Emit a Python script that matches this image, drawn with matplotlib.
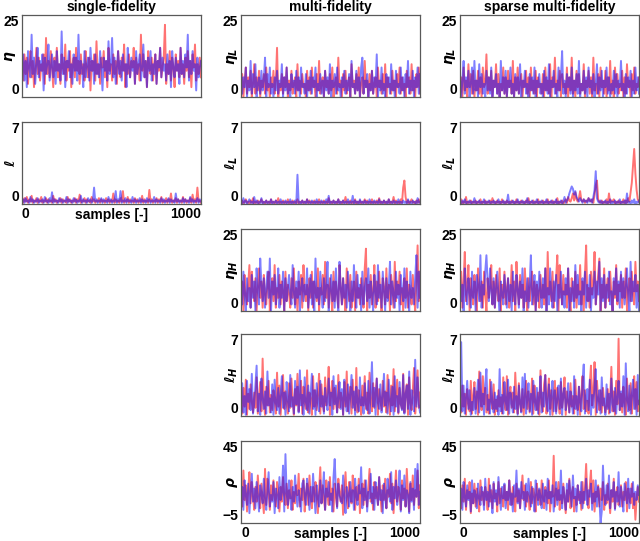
import numpy as np
import matplotlib
matplotlib.use('Agg')
import matplotlib.pyplot as plt

plt.rc('font', family='Liberation Sans', weight='bold', size=10)
plt.rc('mathtext', fontset='dejavusans')

# --- chain traces (roughly every 7th sample) ---
# single-fidelity
eta_sf_red = [9, 5, 13, 7, 12, 4, 10, 14, 6, 11, 3, 9, 15, 7, 12,
              5, 10, 8, 13, 4, 18, 7, 11, 6, 14, 9, 3, 12, 8, 15,
              6, 10, 4, 13, 9, 7, 16, 5, 11, 8, 14, 3, 10, 12, 6,
              15, 8, 11, 4, 13, 7, 10, 5, 14, 9, 6, 12, 2, 11, 8,
              13, 5, 17, 7, 10, 4, 12, 9, 14, 6, 11, 3, 15, 8, 10,
              5, 13, 7, 11, 4, 14, 9, 6, 12, 8, 16, 3, 10, 7, 13,
              6, 11, 9, 15, 4, 12, 7, 10, 5, 19, 8, 13, 6, 11, 3,
              14, 9, 7, 12, 5, 10, 13, 4, 11, 8, 15, 6, 9, 12, 22,
              4, 10, 7, 14, 5, 12, 9, 3, 13, 8, 11, 6, 15, 7, 10,
              4, 12, 8, 14, 6, 11, 3, 13, 9, 16, 5, 10, 7, 12, 6]
eta_sf_blue = [8, 13, 5, 11, 3, 14, 9, 6, 19, 7, 12, 4, 10, 15, 6,
               11, 8, 13, 2, 12, 7, 10, 16, 5, 9, 13, 6, 11, 4, 14,
               8, 10, 5, 20, 7, 12, 3, 11, 9, 14, 6, 10, 4, 13, 8,
               12, 5, 19, 7, 11, 9, 3, 14, 6, 10, 12, 5, 15, 8, 11,
               4, 13, 7, 10, 6, 14, 9, 2, 12, 8, 11, 5, 17, 7, 10,
               18, 6, 12, 4, 9, 14, 7, 11, 5, 13, 8, 10, 3, 15, 9,
               6, 12, 8, 11, 4, 14, 7, 10, 13, 5, 9, 16, 6, 11, 3,
               12, 8, 14, 5, 10, 7, 13, 4, 11, 9, 15, 6, 12, 8, 10,
               5, 13, 7, 11, 3, 14, 9, 6, 12, 8, 10, 4, 15, 7, 11,
               6, 13, 9, 19, 5, 11, 7, 14, 8, 10, 2, 12, 6, 9, 11]
ell_sf_red = [.3, .1, .5, .2, .6, .1, .4, .2, .7, .1, .3, .2, .5, .1, .4,
              .2, .6, .1, .3, .2, .5, .1, .4, .2, .3, .1, .7, .2, .4, .1,
              .3, .2, .5, .1, .4, .2, .3, .1, .6, .2, .4, .1, .3, .2, .5,
              .1, .4, .2, .8, .1, .3, .2, .5, .1, .4, .2, .3, .1, .6, .2,
              .4, .1, .3, .2, .5, .1, .4, .2, .3, .1, .5, .2, .4, .1, .3,
              .2, .9, .1, .4, .2, .3, .1, .5, .2, 1.1, .1, .3, .2, .6, .1,
              .4, .2, .3, .1, .5, .2, .4, .1, .3, .2, .7, .1, .4, .2, .3,
              .1, 1.2, .2, .4, .1, .3, .2, .5, .1, .4, .2, .6, .1, .3, .2,
              .5, .1, .4, .2, .9, .1, .3, .2, .5, .1, .4, .2, .3, .1, .6,
              .2, .4, .1, .3, .2, .5, .1, .8, .2, .4, .1, 1.4, .2, .3, .1]
ell_sf_blue = [.2, .4, .1, .5, .2, .3, .1, .6, .2, .4, .1, .3, .2, .5, .1,
               .3, .2, .4, .1, .6, .2, .3, .1, .5, .2, 1.0, .1, .4, .2, .3,
               .1, .5, .2, .4, .1, .3, .2, .6, .1, .4, .2, .3, .1, .5, .2,
               .4, .1, .3, .2, .7, .1, .4, .2, .3, .1, .5, .2, .4, .1, .3,
               1.4, .2, .4, .1, .3, .2, .5, .1, .4, .2, .3, .1, .6, .2, .4,
               .1, .3, .2, 1.1, .1, .4, .2, 1.1, .1, .3, .2, .5, .1, .4, .2,
               .3, .1, .6, .2, .4, .1, .3, .2, .5, .1, .4, .2, .3, .1, .5,
               .2, .4, .1, .3, .2, .6, .1, .4, .2, .3, .1, .5, .2, .4, .1,
               .3, .2, .5, .1, .4, .2, .3, .1, .9, .2, .4, .1, .3, .2, .5,
               .1, .4, .2, .3, .1, .6, .2, .4, .1, .3, .2, .5, .1, .4, .2]

# multi-fidelity
etaL_mf_red = [2, 7, 0, 5, 9, 1, 6, 3, 8, 0, 4, 10, 1, 6, 2,
               8, 0, 5, 3, 7, 1, 9, 2, 4, 0, 6, 3, 8, 1, 5,
               15, 0, 4, 2, 7, 1, 6, 3, 9, 0, 5, 2, 8, 1, 4,
               6, 0, 10, 2, 5, 1, 7, 3, 4, 0, 8, 2, 6, 1, 9,
               3, 5, 0, 7, 2, 11, 1, 4, 6, 0, 8, 3, 5, 1, 7,
               2, 9, 0, 4, 6, 1, 12, 3, 5, 0, 7, 2, 8, 1, 4,
               6, 0, 10, 3, 5, 1, 7, 2, 9, 0, 4, 6, 1, 11, 3,
               5, 0, 7, 2, 8, 1, 4, 6, 0, 9, 3, 5, 1, 7, 2,
               10, 0, 6, 3, 4, 1, 8, 2, 5, 0, 7, 3, 9, 1, 6,
               2, 4, 0, 8, 3, 6, 1, 10, 2, 5, 0, 7, 3, 9, 1]
etaL_mf_blue = [8, 1, 6, 3, 9, 0, 5, 2, 11, 1, 7, 3, 10, 0, 4,
                6, 1, 8, 2, 5, 12, 0, 7, 3, 9, 1, 4, 0, 6, 2,
                8, 1, 5, 3, 10, 0, 6, 2, 9, 1, 4, 0, 7, 3, 5,
                1, 8, 2, 6, 0, 9, 3, 4, 1, 7, 0, 5, 2, 8, 1,
                6, 3, 9, 0, 4, 2, 7, 1, 5, 0, 8, 2, 6, 1, 10,
                0, 5, 3, 7, 1, 9, 2, 4, 0, 6, 3, 8, 1, 5, 2,
                7, 0, 11, 3, 4, 1, 8, 2, 6, 0, 9, 12, 1, 5, 3,
                7, 0, 4, 2, 8, 1, 6, 3, 13, 0, 5, 2, 9, 1, 4,
                0, 7, 3, 6, 1, 10, 2, 5, 0, 8, 3, 4, 1, 9, 2,
                6, 0, 7, 3, 11, 1, 5, 2, 8, 0, 6, 3, 9, 1, 7]
ellL_mf_red = [.1, .3, .0, .2, .4, .1, .2, .0, .3, .1, .5, .0, .2, .1, .3,
               .0, .2, .4, .1, .2, .0, .3, .1, .2, .0, .4, .1, .2, .0, .3,
               .1, .5, .0, .2, .1, .3, .0, .2, .1, .4, .0, .2, .1, .3, .0,
               .2, .1, .4, .0, .2, .1, .3, .0, .2, .1, .4, .0, .3, .1, .2,
               .0, .3, .1, .2, .0, .4, .1, .2, .0, .3, .1, .2, .0, .5, .1,
               .2, .0, .3, .1, .2, .0, .4, .1, .2, .0, .3, .1, .6, .0, .2,
               .1, .3, .0, .2, .1, .4, .0, .2, .1, .3, .0, .2, .1, .4, .0,
               .3, .1, .2, .0, .4, .1, .2, .0, .3, .1, .5, .0, .2, .1, .3,
               .0, .2, .1, .4, .0, .2, .1, .6, .0, .3, .1, .2, .0, .4, .1,
               1.4, 2.0, .6, .1, .3, .0, .2, .4, .1, .2, .0, .3, .1, .4, .1]
ellL_mf_blue = [.2, .0, .5, .1, .3, .0, .2, .4, .1, .2, .0, .6, .1, .3, .0,
                .2, .1, .5, .0, .2, .1, .3, .0, .2, .1, .4, .0, .2, .1, .3,
                .0, .2, .1, .4, .0, .2, .1, .3, .0, .2, .1, .4, .0, .2, .1,
                .3, .0, 2.5, .1, .2, .0, .3, .1, .2, .0, .4, .1, .2, .0, .3,
                .1, .2, .0, .4, .1, .2, .0, .3, .1, .2, .0, .4, .1, .7, .0,
                .2, .1, .3, .0, .2, .1, .4, .0, .2, .1, .3, .0, .2, .1, .4,
                .0, .2, .1, .7, .0, .3, .1, .2, .0, .4, .1, .2, .0, .3, .1,
                .2, .0, .4, .1, .2, .0, .3, .1, .2, .0, .4, .1, .2, .0, .3,
                .1, .2, .0, .4, .1, .2, .0, .3, .1, .2, .0, .4, .1, .2, .0,
                .3, .1, .2, .0, .4, .1, .2, .0, .3, .1, .2, .0, .5, .1, .2]
etaH_mf_red = [3, 9, 0, 11, 5, 2, 8, 14, 1, 12, 6, 3, 10, 0, 7,
               13, 4, 9, 1, 11, 5, 2, 8, 12, 0, 6, 10, 3, 14, 1,
               7, 4, 11, 2, 9, 6, 0, 12, 3, 8, 5, 1, 10, 4, 13,
               2, 7, 0, 9, 5, 11, 1, 14, 6, 3, 8, 0, 10, 4, 12,
               1, 9, 6, 3, 13, 0, 7, 5, 11, 2, 15, 4, 8, 1, 10,
               6, 0, 12, 3, 9, 5, 1, 14, 7, 2, 10, 4, 0, 13, 8,
               3, 11, 1, 6, 9, 0, 12, 4, 7, 2, 10, 5, 1, 13, 19,
               0, 8, 4, 11, 2, 6, 14, 1, 9, 3, 12, 5, 0, 10, 7,
               2, 13, 4, 8, 0, 11, 6, 1, 15, 3, 9, 5, 12, 2, 7,
               0, 10, 4, 13, 1, 8, 6, 2, 11, 5, 0, 9, 20, 3, 12]
etaH_mf_blue = [8, 2, 12, 5, 0, 10, 3, 7, 1, 11, 4, 9, 0, 13, 6,
                2, 16, 8, 3, 10, 1, 7, 12, 4, 16, 0, 9, 5, 11, 2,
                6, 13, 1, 8, 4, 12, 0, 10, 3, 7, 11, 5, 2, 14, 6,
                1, 9, 4, 12, 0, 7, 10, 3, 8, 5, 13, 1, 6, 11, 2,
                9, 0, 16, 4, 7, 2, 12, 5, 1, 10, 3, 8, 15, 0, 6,
                11, 3, 9, 1, 13, 5, 0, 15, 7, 2, 10, 4, 8, 1, 12,
                5, 0, 9, 3, 14, 6, 1, 11, 4, 8, 0, 12, 2, 7, 10,
                3, 13, 1, 9, 5, 0, 11, 6, 2, 14, 4, 8, 1, 12, 6,
                0, 10, 3, 7, 15, 2, 9, 5, 1, 12, 4, 8, 0, 11, 6,
                3, 13, 1, 9, 5, 0, 12, 4, 7, 2, 10, 17, 1, 12, 4]
ellH_mf_red = [1.5, .2, 2.4, .8, 3.1, .1, 1.9, .6, 2.7, 1.2, .3, 2.0, .7, 3.3, .2,
               1.6, 2.9, .4, 4.9, 1.1, .1, 2.5, .9, 3.0, .3, 1.8, .5, 2.2, 1.4, .2,
               3.7, .8, 2.6, .1, 1.7, 3.5, .6, 2.1, 1.0, .2, 2.8, .7, 3.2, 1.3, .1,
               2.3, .9, 3.6, .4, 1.6, 3.0, .2, 2.5, 1.1, .6, 3.9, .3, 2.0, 1.4, .1,
               3.4, .8, 2.2, .5, 1.9, 3.6, .2, 2.7, 1.0, .4, 3.3, .9, 2.1, 4.2, .1,
               1.8, 3.0, .6, 2.4, 1.2, .3, 3.5, .7, 2.0, 1.5, .1, 2.9, .8, 3.8, .4,
               1.7, 2.5, .2, 3.1, 1.0, .5, 4.1, .3, 2.2, 1.3, .1, 2.6, .9, 3.4, .6,
               2.0, .2, 3.7, 1.1, .4, 2.8, .7, 1.9, 3.2, .1, 2.3, 1.4, .5, 3.0, .8,
               2.1, .3, 3.5, 1.2, .1, 2.6, .9, 4.0, .4, 1.8, 3.1, .2, 2.4, 1.0, .6,
               3.6, .3, 1.9, 2.7, .1, 3.3, 1.1, .5, 2.2, 4.1, .2, 1.6, 3.9, .7, 2.0]
ellH_mf_blue = [.9, 2.8, .3, 1.7, .1, 3.0, 1.2, 2.3, .5, 3.6, .2, 1.0, 2.6, 4.3, .4,
                1.9, .1, 3.2, 1.4, .6, 2.1, .2, 3.8, .9, 1.5, .3, 2.7, .1, 3.1, 1.1,
                .5, 2.4, .2, 1.8, 3.4, .7, 2.0, .1, 2.9, 1.3, .4, 3.5, .8, 1.6, .2,
                3.0, 1.0, 2.5, .3, 3.9, .9, 1.8, .1, 3.3, 1.2, .5, 2.6, .2, 1.9, 3.6,
                .6, 2.2, .1, 2.8, 1.1, .4, 3.0, .8, 1.7, .2, 2.4, 1.3, .5, 3.2, .9,
                2.0, .1, 3.4, 1.0, 2.6, .3, 1.5, 2.9, .6, 2.3, .1, 3.1, 1.4, .4, 2.7,
                .2, 1.8, 3.5, .7, 2.1, .1, 2.5, 1.2, .4, 3.3, .9, 1.6, .2, 2.8, 1.0,
                .5, 3.0, .2, 1.9, 4.6, .8, 2.4, .1, 3.2, 1.1, .6, 2.7, .3, 1.5, 3.6,
                .9, 2.0, .2, 3.1, 1.3, .4, 2.5, .1, 3.4, .8, 1.7, .3, 2.9, 1.0, .5,
                3.5, .2, 1.8, 2.6, .6, 3.8, .1, 2.2, 1.2, .4, 4.8, .8, 3.3, 1.0, .3]
rho_mf_red = [13, 5, 27, 9, 18, 2, 15, 26, 7, 20, 11, 3, 17, 8, 24,
              12, 4, 19, 10, 1, 28, 6, 22, 13, 3, 18, 9, 21, 11, 5,
              20, 14, 2, 17, 8, 23, 12, 6, 19, 4, 15, 10, 21, 3, 14,
              7, 18, 12, 25, 5, 16, 9, 22, 2, 13, 19, 6, 24, 11, 4,
              17, 8, 20, 13, 1, 15, 29, 7, 18, 10, 3, 21, 12, 6, 23,
              9, 16, 2, 19, 11, 5, 22, 14, 8, 18, 0, 13, 26, 10, 4,
              20, 12, 7, 24, 15, 3, 17, 9, 22, 1, 14, 19, 6, 21, 11,
              5, 16, 28, 8, 13, 3, 20, 10, 17, 6, 23, 12, 2, 18, 9,
              22, 4, 15, 11, 25, 7, 19, 1, 14, 27, 8, 17, 12, 3, 21,
              10, 16, 5, 28, 13, 2, 19, 9, 24, 6, 15, 11, 27, 4, 18]
rho_mf_blue = [9, 17, 3, 21, 12, 6, 19, 1, 14, 25, 8, 16, 4, 20, 11,
               2, 18, 13, 7, 22, 10, 3, 15, 26, 5, 12, 8, 20, 1, 16,
               11, 4, 23, 9, 14, 30, 2, 37, 13, 6, 21, 10, 3, 17, 8,
               24, 12, 5, 15, 9, 2, 19, 21, 11, 6, 22, 14, 3, 17, 8,
               25, 12, 1, 18, 10, 5, 21, 7, 14, 26, 3, 16, 11, 20, 6,
               13, 2, 23, 34, 15, 4, 19, 12, 9, 7, 24, 10, 1, 17, 13,
               5, 20, 8, 15, 3, 22, 11, 6, 18, 13, 29, 4, 16, 9, 21,
               2, 14, 10, 25, 7, 17, 3, 20, 12, 6, 23, 9, 15, 1, 19,
               11, 4, 22, 14, 8, 26, 3, 17, 10, 21, 6, 13, 27, 2, 18,
               9, 24, 5, 15, 12, 1, 20, 8, 16, 3, 28, 11, 31, 6, 14]

# sparse multi-fidelity
etaL_sp_red = [1, 6, 0, 9, 2, 5, 0, 10, 3, 7, 1, 8, 0, 5, 2,
               8, 1, 6, 0, 9, 3, 4, 13, 1, 6, 2, 8, 0, 5, 3,
               10, 1, 7, 0, 4, 2, 9, 1, 6, 0, 8, 3, 5, 1, 11,
               0, 6, 2, 9, 1, 4, 7, 0, 5, 3, 8, 1, 6, 0, 9,
               2, 5, 1, 8, 0, 6, 3, 4, 1, 7, 0, 9, 2, 5, 1,
               10, 0, 6, 3, 12, 1, 5, 2, 8, 0, 7, 3, 4, 1, 9,
               0, 6, 2, 12, 1, 5, 0, 8, 3, 7, 1, 4, 2, 10, 0,
               5, 3, 8, 1, 6, 0, 12, 2, 4, 1, 7, 0, 9, 3, 5,
               1, 8, 0, 6, 2, 11, 1, 5, 0, 9, 3, 7, 1, 4, 2,
               8, 0, 6, 1, 10, 3, 5, 0, 7, 2, 9, 1, 4, 3, 6]
etaL_sp_blue = [7, 0, 5, 11, 1, 6, 3, 8, 0, 4, 9, 1, 11, 2, 5,
                0, 10, 3, 7, 1, 4, 0, 8, 2, 6, 1, 9, 0, 5, 3,
                7, 1, 4, 0, 11, 2, 6, 1, 8, 0, 5, 3, 9, 1, 4,
                0, 7, 2, 6, 1, 10, 0, 5, 3, 8, 1, 4, 0, 7, 2,
                6, 1, 9, 0, 5, 3, 7, 1, 4, 0, 8, 2, 6, 1, 10,
                0, 5, 3, 8, 1, 4, 0, 9, 2, 6, 14, 1, 5, 0, 7,
                3, 6, 1, 9, 0, 5, 2, 7, 1, 11, 0, 4, 2, 8, 1,
                6, 0, 9, 3, 5, 1, 7, 0, 4, 10, 1, 6, 2, 8, 0,
                5, 3, 9, 1, 6, 0, 4, 2, 8, 1, 7, 0, 5, 3, 11,
                2, 4, 0, 7, 1, 6, 3, 8, 0, 5, 1, 9, 2, 6, 1]
ellL_sp_red = [.1, .4, .0, .2, .1, .6, .0, .2, .1, .3, .0, .2, .1, .3, .0,
               .2, .1, .4, .0, .2, .1, .3, .0, .2, .1, .3, .0, .5, .1, .2,
               .0, .3, .1, .2, .0, .4, .1, .2, .0, .3, .1, .2, .0, .3, .1,
               .2, .0, .4, .1, .2, .0, .3, .1, .2, .0, .3, .1, .5, .0, .2,
               .1, .3, .0, .2, .1, .4, .0, .2, .1, .3, .0, .2, .1, .4, .0,
               .2, .1, .3, .0, .2, .1, .5, .0, .2, .1, .3, .0, .2, .4, .1,
               .6, .3, .2, .5, .9, .3, 1.0, .4, .2, .5, 1.1, .3, .2, .4, .1,
               .3, .2, .5, .3, .2, .4, .1, .8, 1.6, 2.0, .4, .2, .1, .3, .0,
               .2, .1, .4, .0, .9, .1, .3, .2, .4, .0, .2, .1, .3, .0, .2,
               .1, .4, .0, .3, .1, .5, .2, 1.0, 1.8, 3.2, 4.7, 2.6, 1.2, .4, .2]
ellL_sp_blue = [.2, .0, .3, .1, .4, .0, .2, .1, .3, .0, .2, .1, .5, .0, .2,
                .1, .3, .0, .2, .1, .4, .0, .2, .1, .3, .0, .2, .1, .3, .0,
                .2, .1, .4, .0, .2, .1, .3, .0, .2, .1, .8, .0, .2, .1, .3,
                .0, .2, .1, .4, .0, .2, .1, .3, .0, .2, .1, .5, .0, .2, .1,
                .3, .0, .2, .1, .4, .0, .2, .1, .3, .0, .2, .1, .4, .0, .2,
                .1, .3, .0, .2, .1, .4, .0, .2, .1, .3, .0, .2, .6, .1, .3,
                .5, .9, 1.2, 1.5, 1.3, .8, 1.1, .6, .4, .2, .5, .3, .1, .4, .2,
                .3, .1, .5, .2, .4, .1, .6, 1.2, 2.8, .5, .2, .1, .3, .0, .2,
                .1, .3, .0, .2, .1, .4, .0, .2, .1, .3, .0, .2, .1, .4, .0,
                .2, .1, .3, .0, .9, .1, .2, .0, .3, .1, .4, .0, .2, .1, .3]
etaH_sp_red = [4, 12, 1, 9, 18, 3, 7, 14, 0, 10, 5, 2, 11, 6, 0,
               13, 8, 3, 9, 1, 12, 5, 0, 10, 4, 7, 14, 2, 9, 1,
               11, 6, 3, 13, 0, 8, 4, 12, 2, 7, 10, 1, 5, 14, 3,
               9, 0, 15, 6, 2, 11, 4, 8, 1, 13, 5, 0, 10, 3, 7,
               12, 2, 9, 0, 8, 6, 1, 11, 4, 8, 2, 13, 0, 18, 5,
               9, 3, 12, 1, 7, 10, 17, 0, 14, 6, 2, 11, 5, 8, 1,
               13, 4, 0, 10, 6, 3, 12, 1, 8, 5, 14, 2, 9, 0, 11,
               20, 3, 7, 1, 12, 5, 9, 18, 2, 6, 11, 16, 0, 8, 4,
               13, 1, 7, 10, 3, 12, 5, 0, 9, 4, 14, 2, 8, 6, 11,
               1, 9, 4, 13, 0, 7, 10, 3, 12, 5, 2, 15, 6, 9, 3]
etaH_sp_blue = [11, 3, 8, 0, 13, 5, 2, 10, 6, 1, 12, 4, 9, 0, 11,
                7, 3, 17, 1, 8, 5, 12, 17, 9, 3, 13, 6, 2, 10, 1,
                7, 12, 4, 0, 9, 5, 2, 11, 6, 1, 10, 3, 8, 0, 12,
                5, 2, 11, 7, 1, 9, 4, 13, 0, 6, 3, 10, 1, 8, 17,
                2, 5, 11, 0, 9, 3, 12, 6, 1, 10, 4, 13, 0, 7, 2,
                13, 5, 1, 9, 3, 11, 0, 8, 4, 12, 2, 6, 1, 10, 5,
                13, 0, 7, 3, 9, 1, 14, 4, 11, 2, 6, 0, 10, 5, 12,
                1, 8, 3, 11, 0, 7, 4, 12, 2, 9, 5, 15, 0, 10, 3,
                11, 1, 8, 4, 12, 2, 6, 0, 10, 5, 13, 3, 9, 1, 12,
                4, 10, 2, 7, 13, 5, 0, 15, 3, 9, 6, 11, 1, 8, 0]
ellH_sp_red = [1.3, .3, 2.6, .8, 1.9, .1, 2.3, 1.1, .4, 3.0, .2, 1.7, 2.9, .6, 2.1,
               .1, 3.8, 1.5, .5, 3.4, 1.0, 2.4, .3, 1.8, .2, 3.1, 1.2, .6, 2.7, .1,
               1.4, .4, 2.2, .8, 1.6, .2, 3.3, 1.1, .5, 3.4, .1, 1.9, 2.5, .7, 2.0,
               .3, 3.7, 1.4, .2, 2.8, 1.0, .4, 2.3, .1, 1.7, 3.0, .6, 2.1, .3, 1.5,
               3.2, .2, 2.6, 1.2, .5, 2.0, .1, 3.9, 1.0, .4, 2.7, 3.5, .2, 1.8, 3.2,
               .6, 2.2, .1, 1.5, 3.0, .4, 2.4, 1.1, .2, 2.9, .7, 1.6, 3.3, .1, 2.1,
               1.2, .3, 2.8, .8, 1.7, .2, 3.1, 1.0, .5, 2.5, .1, 1.9, 3.4, .6, 2.2,
               .4, 1.3, .2, 2.6, 4.3, .9, 2.0, 4.6, .1, 3.0, 1.4, .5, 2.2, .3, 2.4,
               1.1, .3, .8, 2.3, .2, 1.6, 4.2, .4, 2.1, .1, 3.0, 1.0, 6.6, .5, 1.9,
               .3, 2.5, 1.2, .1, 3.2, 1.1, .5, 2.8, .2, 1.7, 3.4, .6, 2.9, .4, 1.3]
ellH_sp_blue = [1.0, 6.3, .4, 2.6, .2, 1.5, 3.0, .6, 2.2, .1, 1.2, .5, 2.4, .2, 1.6,
                3.1, .3, 3.7, .8, 1.9, .1, 2.7, 4.0, .5, 1.4, .2, 2.9, 1.1, .3, 2.0,
                .6, 1.7, .1, 4.0, .4, 1.8, .2, 2.9, 1.3, .5, 3.1, .2, 2.0, 1.1, .3,
                2.5, .6, 1.7, .1, 2.6, 1.0, .3, 3.3, .7, 3.6, .2, 1.4, 2.8, .4, 1.9,
                .1, 3.0, 1.2, .5, 2.4, .2, 1.6, 3.4, .3, 2.0, .8, 3.5, 1.1, .4, 2.7,
                .1, 1.8, 3.0, .4, 2.2, .2, 1.5, 2.6, .6, 3.2, .1, 1.9, 2.4, .5, 1.2,
                2.8, .3, 2.1, 1.0, .2, 3.4, .6, 1.7, .1, 2.5, 1.2, .4, 3.0, 4.4, .2,
                1.6, 2.3, .5, 3.1, .1, 1.8, .7, 2.6, 4.0, .3, 1.4, 2.2, .2, 3.3, .9,
                1.5, .1, 2.7, .6, 1.9, .3, 3.2, 1.0, .4, 2.4, .2, 1.7, 3.0, .5, 2.1,
                .8, 3.4, .1, 4.5, 1.3, .4, 2.6, .2, 1.8, 3.1, .6, 2.3, .1, 3.5, 1.0]
rho_sp_red = [12, 4, 18, 8, 22, 3, 15, 10, 20, 1, 13, 7, 19, 5, 16,
              11, 2, 21, 9, 14, 6, 17, 12, 3, 22, 8, 15, 4, 19, 10,
              13, 2, 20, 7, 16, 11, 5, 18, 9, 14, 3, 21, 12, 6, 17,
              10, 2, 19, 8, 15, 4, 13, 24, 9, 18, 5, 14, 11, 3, 20,
              7, 16, 12, 2, 19, 9, 15, 6, 21, 10, 4, 17, 13, 7, 21,
              2, 14, 11, 36, 5, 16, 9, 20, 3, 12, 7, 19, 10, 1, 15,
              8, 22, 4, 13, 17, 2, 11, 6, 18, 9, 14, 3, 20, 7, 16,
              31, 10, 4, 17, 27, 7, 21, 2, 14, 11, 18, 5, 16, 9, 20,
              3, 12, 7, 19, 10, 1, 15, 8, 22, 4, 13, 17, 6, 11, 18,
              5, 14, 9, 20, 2, 16, 11, 7, 19, 4, 13, -3, 10, 17, 8]
rho_sp_blue = [8, 16, 3, 20, 11, 5, 18, 9, 14, 2, 21, 7, 15, 12, 4,
               19, 10, 6, 17, 13, 3, 22, 9, 14, 5, 18, 11, 1, 20, 8,
               15, 6, 23, 12, 3, 17, 10, 19, 4, 14, 9, 21, 6, 13, 2,
               18, 11, 27, 7, 16, 4, 20, 10, 14, 3, 19, 8, 22, 12, 5,
               17, 9, 2, 21, 13, 6, 16, 11, 4, 19, 8, 15, 3, 22, 10,
               14, 7, 18, 2, 12, 20, 6, 15, 9, 27, 4, 17, 11, 3, 19,
               8, 21, 13, 5, 24, 10, 16, 2, 18, 11, 7, 20, 4, 14, 9,
               22, 6, 15, 11, 19, 3, 13, 8, 21, 5, 17, 10, -5, 2, 30,
               12, 6, 18, 9, 24, 4, 15, 11, 20, 3, 14, 8, 26, 5, 17,
               10, 2, 19, 13, 7, 22, 4, 16, 11, 20, 6, 14, 9, 18, 12]

titles = ['single-fidelity', 'multi-fidelity', 'sparse multi-fidelity']
n_samples = 1000

# (row, col, ylabel, ymin, ymax, red, blue)
panels = [
    (0, 0, r'$\boldsymbol{\eta}$', 0, 25, eta_sf_red, eta_sf_blue),
    (1, 0, r'$\boldsymbol{\ell}$', 0, 7, ell_sf_red, ell_sf_blue),
    (0, 1, r'$\boldsymbol{\eta_L}$', 0, 25, etaL_mf_red, etaL_mf_blue),
    (1, 1, r'$\boldsymbol{\ell_L}$', 0, 7, ellL_mf_red, ellL_mf_blue),
    (2, 1, r'$\boldsymbol{\eta_H}$', 0, 25, etaH_mf_red, etaH_mf_blue),
    (3, 1, r'$\boldsymbol{\ell_H}$', 0, 7, ellH_mf_red, ellH_mf_blue),
    (4, 1, r'$\boldsymbol{\rho}$', -5, 45, rho_mf_red, rho_mf_blue),
    (0, 2, r'$\boldsymbol{\eta_L}$', 0, 25, etaL_sp_red, etaL_sp_blue),
    (1, 2, r'$\boldsymbol{\ell_L}$', 0, 7, ellL_sp_red, ellL_sp_blue),
    (2, 2, r'$\boldsymbol{\eta_H}$', 0, 25, etaH_sp_red, etaH_sp_blue),
    (3, 2, r'$\boldsymbol{\ell_H}$', 0, 7, ellH_sp_red, ellH_sp_blue),
    (4, 2, r'$\boldsymbol{\rho}$', -5, 45, rho_sp_red, rho_sp_blue),
]
last_row = {0: 1, 1: 4, 2: 4}

W, H = 640, 541
col_left = [22, 241, 460]
row_top = [15, 122, 229, 334, 441]
aw, ah = 179, 82
lab_x = [-0.02, -0.005, -0.012]

fig = plt.figure(figsize=(W / 100, H / 100), dpi=100)

for row, col, lab, lo, hi, red, blue in panels:
    ax = fig.add_axes([col_left[col] / W, 1 - (row_top[row] + ah) / H, aw / W, ah / H])
    ax.plot(np.linspace(0, n_samples, len(red)), red, color='red', alpha=0.55, lw=1.4)
    ax.plot(np.linspace(0, n_samples, len(blue)), blue, color='blue', alpha=0.5, lw=1.4)
    ax.set_xlim(0, n_samples)
    ax.set_ylim(lo, hi)
    ax.set_yticks([lo, hi])
    ax.tick_params(length=0, pad=2, labelsize=10)
    ylabs = ax.get_yticklabels()
    ylabs[0].set_va('bottom')
    ylabs[-1].set_va('top')
    ax.set_ylabel(lab, fontsize=10)
    ax.yaxis.set_label_coords(lab_x[col], 0.5)
    for s in ax.spines.values():
        s.set_color('0.35')
        s.set_linewidth(0.9)
    if row == 0:
        ax.set_title(titles[col], fontsize=10, fontweight='bold', pad=3)
    if row == last_row[col]:
        ax.set_xticks([0, n_samples])
        xl = ax.get_xticklabels()
        xl[0].set_ha('left')
        xl[-1].set_ha('right')
        ax.set_xlabel('samples [-]', fontweight='bold', labelpad=-9)
    else:
        ax.set_xticks([])

fig.savefig('out.png', dpi=100)
